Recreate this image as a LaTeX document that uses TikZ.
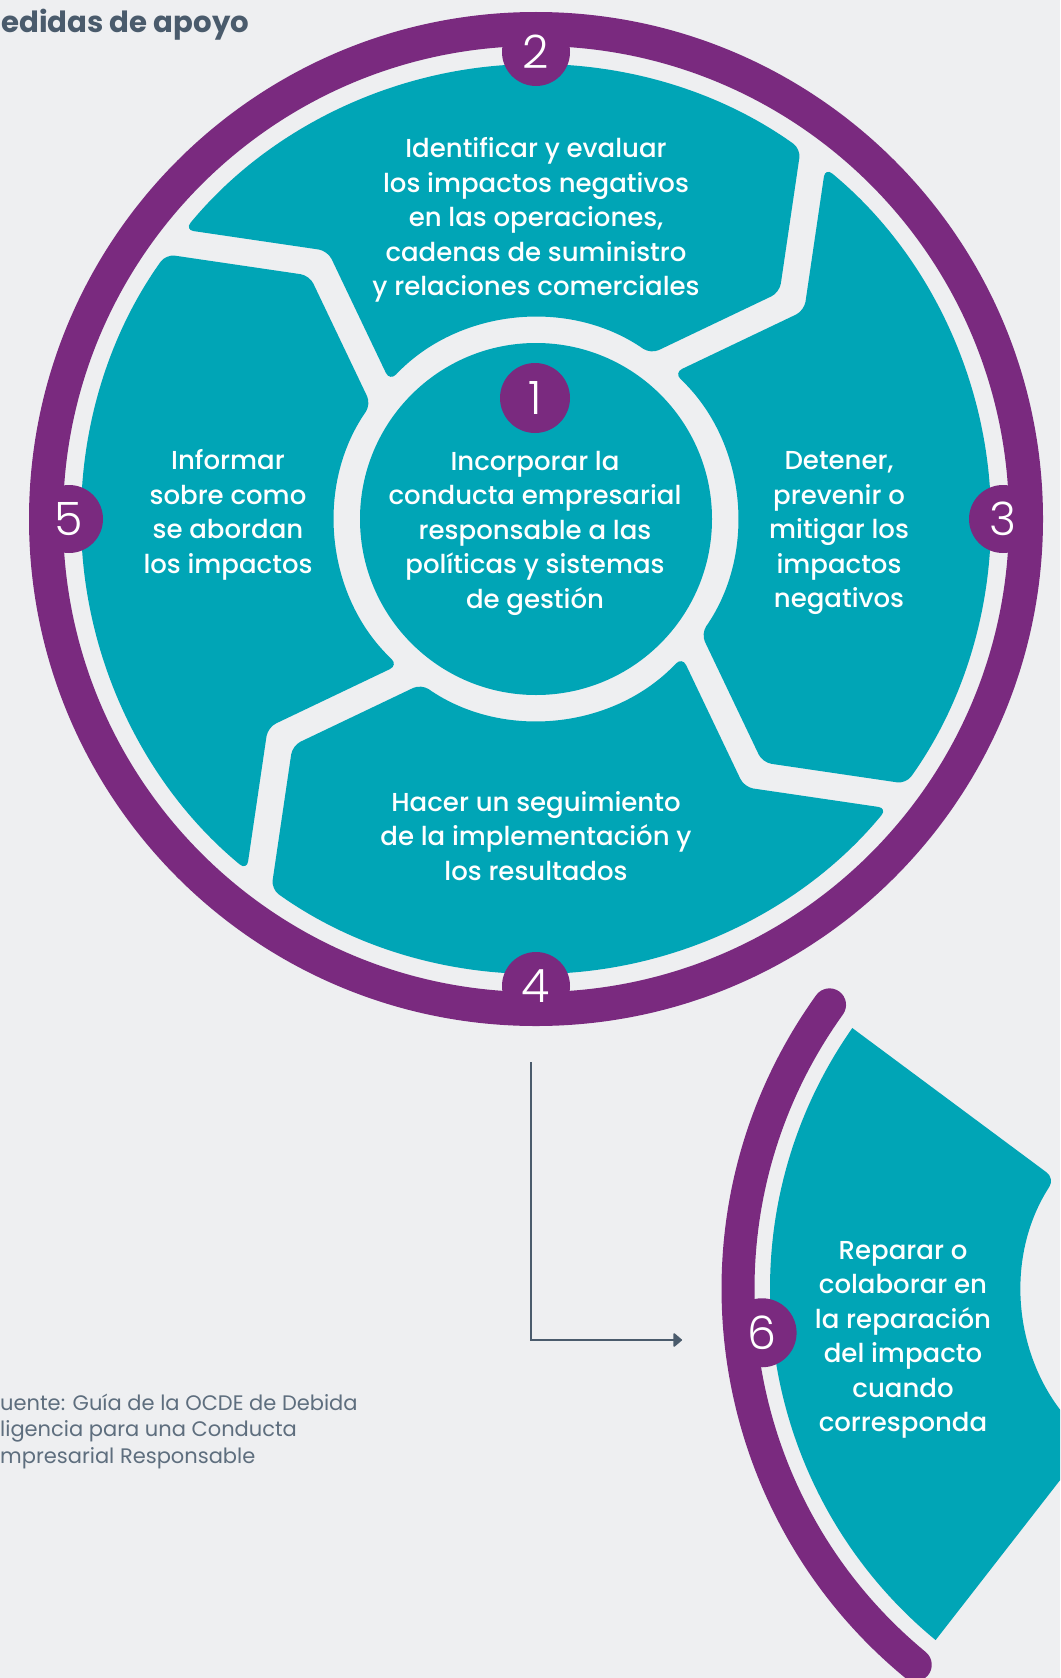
\documentclass[tikz,border=0pt]{standalone}
\usepackage{fontspec}
\setmainfont{Poppins}
\newfontfamily\medfont{Poppins Medium}
\newfontfamily\thinfont{Poppins Light}
\usetikzlibrary{arrows.meta}

\definecolor{tealc}{HTML}{00A5B6}
\definecolor{purplec}{HTML}{7A2A7F}
\definecolor{bgc}{HTML}{EEEFF1}
\definecolor{slatec}{HTML}{4A5B6C}
\definecolor{greyc}{HTML}{5E6E7E}

\tikzset{
	steptext/.style={text=white, align=center, inner sep=0pt, font=\medfont\fontsize{26}{34.5}\selectfont},
	numcircle/.style={circle, fill=purplec, minimum size=68pt, inner sep=0pt, text=white, font=\thinfont\fontsize{46}{46}\selectfont},
	srctext/.style={anchor=base west, inner sep=0pt, text=greyc, font=\fontsize{21}{21}\selectfont}
}

\begin{document}
\begin{tikzpicture}[x=1pt,y=1pt]
	\useasboundingbox (0,0) rectangle (1060,-1678);
	\clip (0,0) rectangle (1060,-1678);
	\fill[bgc] (0,0) rectangle (1060,-1678);
	
	\node[anchor=base west, inner sep=0pt, text=slatec, font=\bfseries\fontsize{29.2}{29.2}\selectfont] (title) at (1,-33) {edidas de apoyo};
	
	% main wheel
	\begin{scope}[shift={(536,-519)}]
		\draw[purplec, line width=34pt] (0,0) circle[radius=490];
		\fill[tealc] (0,0) circle[radius=176];
		\foreach \rot in {0,90,180,270}{
			\fill[tealc, rounded corners=9pt, rotate=\rot] (7.48:455)
				arc[start angle=7.48, end angle=50.53, radius=455] -- (37.84:339.6) -- (46.67:201)
				arc[start angle=46.67, end angle=-34.79, radius=201] -- (-47.07:332.6) -- (-35.57:455)
				arc[start angle=-35.57, end angle=7.48, radius=455];
		}
		
		\node[numcircle, minimum size=70pt] (n1) at (-1,121) {1};
		\node[numcircle] (n2) at (90:467) {2};
		\node[numcircle] (n3) at (0:467) {3};
		\node[numcircle] (n4) at (-90:467) {4};
		\node[numcircle] (n5) at (180:467) {5};
	\end{scope}
	
	\node[steptext] (step1) at (535,-533) {Incorporar la\\conducta empresarial\\responsable a las\\políticas y sistemas\\de gestión};
	\node[steptext] (step2) at (536,-220) {Identificar y evaluar\\los impactos negativos\\en las operaciones,\\cadenas de suministro\\y relaciones comerciales};
	\node[steptext] (step3) at (839,-533) {Detener,\\prevenir o\\mitigar los\\impactos\\negativos};
	\node[steptext] (step4) at (536,-836) {Hacer un seguimiento\\de la implementación y\\los resultados};
	\node[steptext] (step5) at (228,-515) {Informar\\sobre como\\se abordan\\los impactos};
	
	% step 6, outside the wheel
	\begin{scope}[shift={(1225,-1289)}]
		\draw[purplec, line width=33pt, line cap=round] (144.3:487) arc[start angle=144.3, end angle=230.5, radius=487];
		\fill[tealc] (145:455) [rounded corners=10pt] -- (147:203)
			arc[start angle=147, end angle=228.5, radius=203] [sharp corners] -- (230.5:455)
			arc[start angle=230.5, end angle=145, radius=455] -- cycle;
		\node[numcircle, minimum size=69pt] (n6) at (185.4:465) {6};
	\end{scope}
	\node[steptext] (step6) at (903,-1340) {Reparar o\\colaborar en\\la reparación\\del impacto\\cuando\\corresponda};
	
	% arrow from the wheel to step 6
	\coordinate (arrtop) at (531,-1062);
	\coordinate (arrend) at (682,-1340);
	\draw[slatec, line width=1.5pt, -{Triangle[length=9pt, width=15pt, round]}] (arrtop) |- (arrend);
	
	\node[srctext] (src1) at (0,-1410) {uente: Guía de la OCDE de Debida};
	\node[srctext] (src2) at (0,-1436.7) {ligencia para una Conducta};
	\node[srctext] (src3) at (0,-1463.3) {mpresarial Responsable};
\end{tikzpicture}
\end{document}
